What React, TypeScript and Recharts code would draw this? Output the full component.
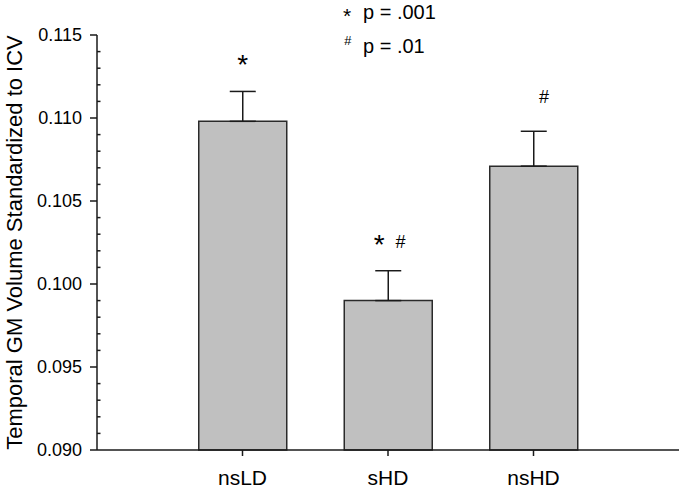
import { BarChart, Bar, XAxis, YAxis, ErrorBar, LabelList } from "recharts";

const groups = ["nsLD", "sHD", "nsHD"];
const groupPos = [1, 2, 3];
const meanVolume = [0.1098, 0.099, 0.1071];
const semVolume = [0.0018, 0.0018, 0.0021];
const sigMarks = [["*"], ["*", "#"], ["#"]];
const majorTicks = [0.09, 0.095, 0.1, 0.105, 0.11, 0.115];
const minorTicks = [
  0.091, 0.092, 0.093, 0.094, 0.096, 0.097, 0.098, 0.099, 0.101, 0.102, 0.103, 0.104,
  0.106, 0.107, 0.108, 0.109, 0.111, 0.112, 0.113, 0.114,
];
const yDomain = [0.09, 0.115];

const data = groups.map((name, i) => ({
  name,
  pos: groupPos[i],
  mean: meanVolume[i],
  err: [0, semVolume[i]],
}));

const allYTicks = [...majorTicks, ...minorTicks].sort((a, b) => a - b);

const FONT = "'Liberation Sans', Arial, sans-serif";
const INK = "#1a1a1a";

function SigLabel(props: any) {
  const vb = props.viewBox ?? props;
  const i = groups.indexOf(props.value);
  if (i < 0 || !vb) return null;
  const { x, y, width, height } = vb;
  const pxPerUnit = height / (meanVolume[i] - yDomain[0]);
  const capY = y - semVolume[i] * pxPerUnit;
  const cx = x + width / 2;
  const marks = sigMarks[i];
  const paired = marks.length > 1;
  return (
    <g fontFamily={FONT} fill="#000">
      {marks.map((m, k) => {
        if (m === "*") {
          return (
            <text key={k} x={cx + (paired ? -9 : 0)} y={capY - 17} fontSize={28} textAnchor="middle">
              *
            </text>
          );
        }
        return (
          <text
            key={k}
            x={cx + (paired ? 12 : 10)}
            y={capY - (paired ? 23 : 28)}
            fontSize={18}
            textAnchor="middle"
            fontStyle="italic"
          >
            #
          </text>
        );
      })}
    </g>
  );
}

// major ticks point out with a label, minor ticks point in
function YTick(props: any) {
  const { x, y, payload } = props;
  const v = payload.value as number;
  const major = majorTicks.some((t) => Math.abs(t - v) < 1e-9);
  if (!major) {
    return <line x1={x} x2={x + 3.5} y1={y} y2={y} stroke={INK} strokeWidth={1.5} />;
  }
  return (
    <g>
      <line x1={x - 7} x2={x} y1={y} y2={y} stroke={INK} strokeWidth={1.5} />
      <text x={x - 15} y={y} dy="0.35em" textAnchor="end" fontFamily={FONT} fontSize={18} fill="#000">
        {v.toFixed(3)}
      </text>
    </g>
  );
}

function YTitle(props: any) {
  const vb = props.viewBox;
  const cy = vb.y + vb.height / 2;
  return (
    <text
      transform={`translate(22, ${cy}) rotate(-90)`}
      textAnchor="middle"
      fontFamily={FONT}
      fontSize={22}
      fill="#000"
    >
      Temporal GM Volume Standardized to ICV
    </text>
  );
}

export default function App() {
  return (
    <div style={{ position: "absolute", left: 0, top: 0, width: 679, height: 489, background: "#fff" }}>
      <BarChart width={679} height={489} data={data} margin={{ top: 35, right: 0, left: 0, bottom: 0 }}>
        <XAxis
          dataKey="pos"
          type="number"
          domain={[0, 4]}
          ticks={groupPos}
          tickFormatter={(v) => groups[groupPos.indexOf(v)] ?? ""}
          tickSize={6}
          tickMargin={14}
          height={39}
          tick={{ fontSize: 21, fill: "#000", fontFamily: FONT }}
          axisLine={{ stroke: INK, strokeWidth: 1.5 }}
          tickLine={{ stroke: INK, strokeWidth: 1.5 }}
        />
        <YAxis
          domain={yDomain}
          ticks={allYTicks}
          interval={0}
          width={97}
          tickSize={0}
          tickMargin={0}
          tickLine={false}
          tick={YTick}
          axisLine={{ stroke: INK, strokeWidth: 1.5 }}
          label={{ content: YTitle }}
        />
        <Bar
          dataKey="mean"
          barSize={88}
          fill="#c0c0c0"
          stroke="#2a2a2a"
          strokeWidth={1.5}
          isAnimationActive={false}
        >
          <ErrorBar dataKey="err" direction="y" width={13} stroke={INK} strokeWidth={1.5} />
          <LabelList dataKey="name" content={SigLabel} />
        </Bar>
      </BarChart>
      <svg
        width={679}
        height={489}
        style={{ position: "absolute", left: 0, top: 0, pointerEvents: "none" }}
        fontFamily={FONT}
        fill="#000"
      >
        <text x={343} y={23} fontSize={21}>*</text>
        <text x={363} y={19} fontSize={20}>p = .001</text>
        <text x={344} y={45} fontSize={13} fontStyle="italic">#</text>
        <text x={363} y={53} fontSize={20}>p = .01</text>
      </svg>
    </div>
  );
}
